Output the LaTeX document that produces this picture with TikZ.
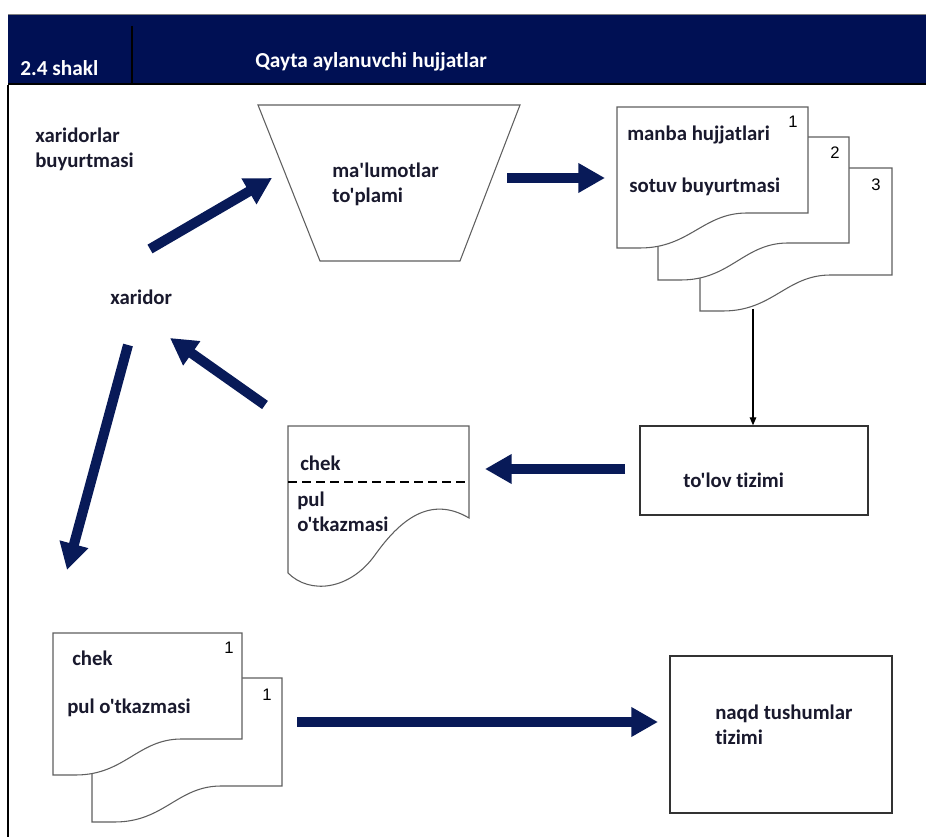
\documentclass[tikz,border=0pt]{standalone}
\usepackage{fontspec}
\setmainfont{Carlito}[Ligatures={TeXOff,NoCommon}]
\newfontfamily\arialf{Liberation Sans}
\usetikzlibrary{arrows.meta}
\definecolor{bandnavy}{RGB}{0,16,84}
\definecolor{arrowblue}{RGB}{8,26,88}
\definecolor{txt}{RGB}{25,25,45}
\definecolor{edge}{RGB}{95,95,95}
\newcommand\docshape[5]{%
  \draw[docline] (#1,#3) -- (#2,#3) -- (#2,#4) -- ({#1+0.68*(#2-#1)},#4)
    .. controls ({#1+0.45*(#2-#1)},#4) and ({#1+0.38*(#2-#1)},#5) .. ({#1+0.12*(#2-#1)},#5)
    -- (#1,#5) -- cycle;}
\begin{document}
\begin{tikzpicture}[x=0.75pt,y=-0.75pt,
  lbl/.style={font=\bfseries\fontsize{15.6}{18.75}\selectfont, text=txt, anchor=west, inner sep=0pt, align=left},
  hdr/.style={font=\bfseries\fontsize{16}{19}\selectfont, text=white, anchor=west, inner sep=0pt},
  num/.style={font=\arialf\fontsize{12.5}{14}\selectfont, text=black, inner sep=0pt},
  bigarrow/.style={draw=arrowblue, line width=7.5pt, -{Triangle[length=20pt,width=21pt]}},
  thinarrow/.style={draw=black, line width=0.8pt, -{Triangle[length=6pt,width=5pt]}},
  docline/.style={draw=edge, line width=0.8pt, fill=white},
  boxst/.style={draw=black!80, line width=1.1pt, inner sep=0pt, fill=white},
]
\useasboundingbox (0,0) rectangle (926,837);
% header
\fill[bandnavy] (8,14) rectangle (926,85);
\draw[gray, line width=0.6pt] (8,14) -- (926,14);
\draw[black, line width=1pt] (8,84) -- (926,84);
\draw[black, line width=1.2pt] (132,26) -- (132,85);
\node[hdr] (fig) at (20,68) {2.4 shakl};
\node[hdr] (title) at (255,62) {Qayta aylanuvchi hujjatlar};
% frame
\draw[black, line width=1pt] (8,85) -- (8,837);

% left labels
\node[lbl] (buyurtma) at (35,149.5) {xaridorlar\\buyurtmasi};
\node[lbl] (xaridor) at (110,297) {xaridor};

% trapezoid
\draw[docline] (258,105) -- (520,105) -- (460,261) -- (320,261) -- cycle;
\node[lbl] (toplam) at (332,184) {ma'lumotlar\\to'plami};

% top-right document stack
\docshape{700}{892}{168}{275}{311}
\docshape{658}{849}{137}{243}{280}
\docshape{617}{808}{107}{213}{248}
\node[num] (n1) at (793,122) {1};
\node[num] (n2) at (835,153) {2};
\node[num] (n3) at (876,185) {3};
\node[lbl] (manba) at (627,135) {manba hujjatlari};
\node[lbl] (sotuv) at (629,187) {sotuv buyurtmasi};
\coordinate (stackbot) at (753,309);

% to'lov tizimi
\node[boxst, minimum width=171pt, minimum height=66.75pt] (tolov) at (754,470.5) {};
\node[lbl] (tolovtxt) at (683,480) {to'lov tizimi};

% chek document (middle)
\draw[docline] (288,426) -- (469,426) -- (469,518)
  .. controls (430,495) and (400,520) .. (375,555)
  .. controls (350,590) and (310,595) .. (288,573) -- cycle;
\draw[black, line width=2pt, dash pattern=on 6.75pt off 3.75pt] (288,482) -- (469,482);
\node[lbl] (chek1) at (300,463) {chek};
\node[lbl] (pul1) at (297,511.5) {pul\\o'tkazmasi};

% bottom-left document stack
\docshape{92}{282}{678}{786}{822}
\docshape{53}{242}{633}{739}{775}
\node[num] (b1) at (229,648) {1};
\node[num] (b2) at (267,695) {1};
\node[lbl] (chek2) at (72,658) {chek};
\node[lbl] (pul2) at (67,708) {pul o'tkazmasi};

% naqd tushumlar tizimi
\node[boxst, minimum width=166.5pt, minimum height=117.75pt] (naqd) at (781,734.5) {};
\node[lbl] (naqdtxt) at (715,724.5) {naqd tushumlar\\tizimi};

% arrow end points
\coordinate (a1s) at (150,249); \coordinate (a1e) at (272,178);
\coordinate (a2s) at (507,178); \coordinate (a2e) at (605,178);
\coordinate (a3s) at (625,469); \coordinate (a3e) at (485,469);
\coordinate (a4s) at (265,405); \coordinate (a4e) at (170,338);
\coordinate (a5s) at (128,345); \coordinate (a5e) at (67,570);
\coordinate (a6s) at (297,722); \coordinate (a6e) at (658,722);

\draw[bigarrow] (a1s) -- (a1e);
\draw[bigarrow] (a2s) -- (a2e);
\draw[bigarrow] (a3s) -- (a3e);
\draw[bigarrow] (a4s) -- (a4e);
\draw[bigarrow] (a5s) -- (a5e);
\draw[bigarrow] (a6s) -- (a6e);
\draw[thinarrow] (stackbot) -- (stackbot |- tolov.north);
\end{tikzpicture}
\end{document}
